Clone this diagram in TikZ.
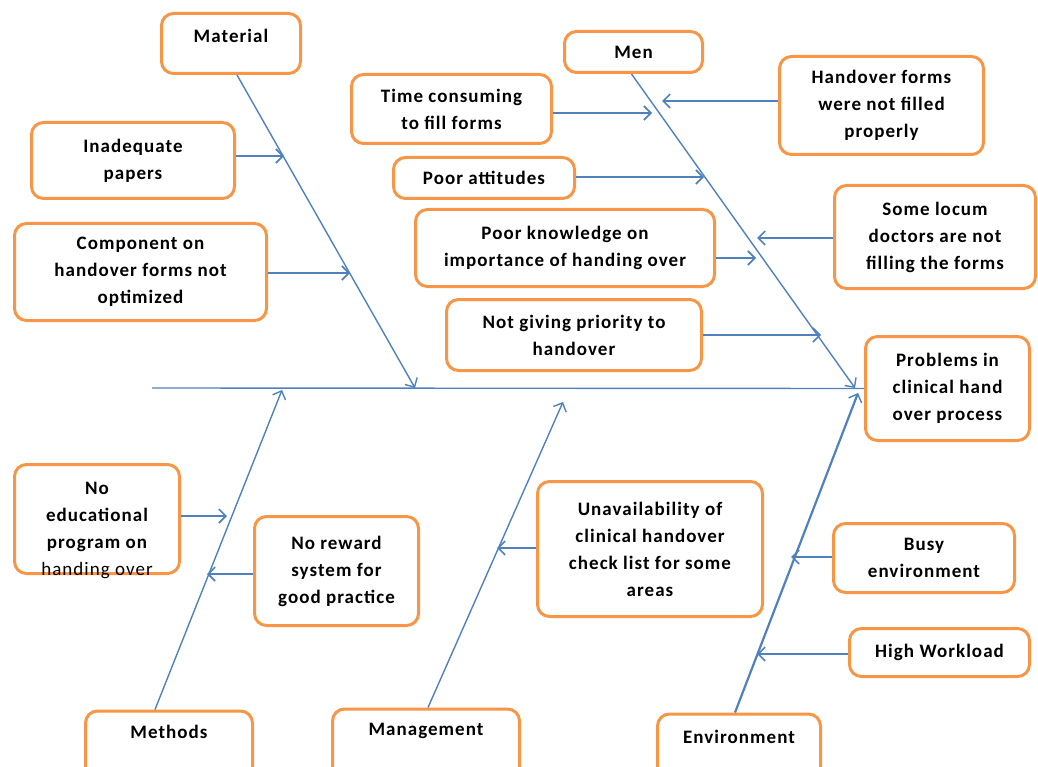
\documentclass[tikz,border=0pt]{standalone}
\usepackage{fontspec}
\setmainfont{Carlito}[LetterSpace=5.5]
\usetikzlibrary{arrows.meta}
\definecolor{bord}{HTML}{F79646}
\definecolor{bone}{HTML}{4F81BD}
\begin{document}
\begin{tikzpicture}[x=1pt,y=-1pt,
  box/.style={draw=bord, line width=3pt, rounded corners=12pt, fill=white, align=center,
    font=\fontsize{19}{27}\selectfont\bfseries, inner sep=0pt},
  txt/.style={align=center, font=\fontsize{19}{27}\selectfont\bfseries, inner sep=0pt},
  boneline/.style={draw=bone, line width=1.4pt, -{Straight Barb[length=7pt,width=14pt,line width=1.4pt]}},
  arr/.style={draw=bone, line width=1.8pt, -{Straight Barb[length=7pt,width=14pt,line width=1.6pt]}}]
\useasboundingbox (0,0) rectangle (1038,767);

% boxes
\node[box, minimum width=139, minimum height=60] (mat) at (231,43.5) {};
\node[txt] (matt) at (231,36) {Material};
\node[box, minimum width=138, minimum height=41] (men) at (633.5,52) {Men};
\node[box, minimum width=200, minimum height=69] (time) at (451.5,109) {Time consuming\\to fill forms};
\node[box, minimum width=204, minimum height=98] (hof) at (881.5,105.5) {Handover forms\\were not filled\\properly};
\node[box, minimum width=203, minimum height=76] (inad) at (133,160.5) {Inadequate\\papers};
\node[box, minimum width=181, minimum height=41] (att) at (484,178) {Poor attitudes};
\node[box, minimum width=252, minimum height=97] (comp) at (140.5,272) {Component on\\handover forms not\\optimized};
\node[box, minimum width=299, minimum height=77] (know) at (565,248) {Poor knowledge on\\importance of handing over};
\node[box, minimum width=201, minimum height=103] (locum) at (935,237) {Some locum\\doctors are not\\filling the forms};
\node[box, minimum width=255, minimum height=71] (prio) at (574,335) {Not giving priority to\\handover};
\node[box, minimum width=164, minimum height=104] (prob) at (947.5,388.5) {Problems in\\clinical hand\\over process};
\node[box, minimum width=165, minimum height=109] (edu) at (97,519) {};
\node[txt] (edut) at (97,530) {No\\educational\\program on\\{\mdseries handing over}};
\node[box, minimum width=164, minimum height=109] (rew) at (336.5,571) {No reward\\system for\\good practice};
\node[box, minimum width=225, minimum height=135] (unav) at (650,549) {Unavailability of\\clinical handover\\check list for some\\areas};
\node[box, minimum width=181, minimum height=69] (busy) at (924,558) {Busy\\environment};
\node[box, minimum width=180, minimum height=48] (work) at (939.5,652.5) {High Workload};
\node[box, minimum width=167, minimum height=70] (meth) at (169,746) {};
\node[txt] (metht) at (169,732) {Methods};
\node[box, minimum width=187, minimum height=70] (mgmt) at (426,744) {};
\node[txt] (mgmtt) at (426,731) {Management};
\node[box, minimum width=163, minimum height=70] (env) at (739,749) {};
\node[txt] (envt) at (739,737) {Environment};

% spine
\coordinate (spL) at (152,388);
\draw[draw=bone, line width=1.4pt] (spL) -- (prob.west);

% bone tips
\coordinate (matT) at (415,388);
\coordinate (menT) at (855,388);
\coordinate (methT) at (282,390);
\coordinate (mgmtT) at (563,402);
\coordinate (envT) at (858,393);

\draw[boneline] ([xshift=6]mat.south) -- (matT);
\draw[boneline] ([xshift=-2]men.south) -- (menT);
\draw[boneline] ([xshift=-14]meth.north) -- (methT);
\draw[boneline] ([xshift=2]mgmt.north) -- (mgmtT);
\draw[boneline, line width=2.2pt] ([xshift=-4]env.north) -- (envT);

% cause tips
\coordinate (inadT) at (284,156);
\coordinate (compT) at (350,273);
\coordinate (timeT) at (652,113);
\coordinate (hofT) at (662,101);
\coordinate (attT) at (704,177);
\coordinate (knowT) at (756,258);
\coordinate (locumT) at (757,238);
\coordinate (prioT) at (821,335);
\coordinate (eduT) at (227,516);
\coordinate (rewT) at (207,574);
\coordinate (unavT) at (497,548);
\coordinate (busyT) at (791,557);
\coordinate (workT) at (757,654);

\draw[arr] (inad.east |- inadT) -- (inadT);
\draw[arr] (comp.east |- compT) -- (compT);
\draw[arr] (time.east |- timeT) -- (timeT);
\draw[arr] (hof.west |- hofT) -- (hofT);
\draw[arr] (att.east |- attT) -- (attT);
\draw[arr] (know.east |- knowT) -- (knowT);
\draw[arr] (locum.west |- locumT) -- (locumT);
\draw[arr] (prio.east |- prioT) -- (prioT);
\draw[arr] (edu.east |- eduT) -- (eduT);
\draw[arr] (rew.west |- rewT) -- (rewT);
\draw[arr] (unav.west |- unavT) -- (unavT);
\draw[arr] (busy.west |- busyT) -- (busyT);
\draw[arr] (work.west |- workT) -- (workT);
\end{tikzpicture}
\end{document}
